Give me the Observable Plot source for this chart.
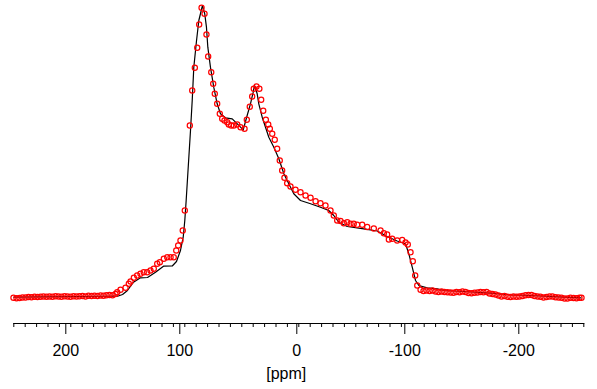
<!DOCTYPE html>
<html><head><meta charset="utf-8">
<script src="https://cdn.jsdelivr.net/npm/d3@7"></script>
<script src="https://cdn.jsdelivr.net/npm/@observablehq/plot@0.6"></script>
<style>html,body{margin:0;padding:0;background:#fff}svg{display:block}</style>
</head><body><div id="chart"></div>
<script>
// Experimental spectrum (black line): chemical shift [ppm] and intensity (arb. units)
const linePpm = [250, 226.6, 191.5, 159.0, 154.6, 150.3, 145.0, 138.9, 132.7, 125.7, 118.7, 111.0, 107.3, 103.8, 101.4, 100.0, 98.8, 95.0, 93.5, 92.1, 89.7, 87.7, 84.5, 82.5, 81.0, 79.8, 77.5, 74.6, 71.6, 68.7, 64.3, 58.4, 55.5, 51.1, 48.8, 45.3, 42.4, 40.0, 38.9, 36.5, 35.1, 32.1, 29.2, 26.3, 21.9, 17.5, 13.1, 8.8, 4.4, -1.5, -10.3, -19.0, -26.3, -30.7, -35.1, -42.5, -57.0, -68.8, -77.5, -86.3, -93.6, -96.5, -99.5, -102.4, -105.3, -112.6, -121.4, -127.2, -144.7, -168.2, -185.7, -203.2, -232.5, -247.5];
const lineIntensity = [0.3, 0.7, 1.0, 1.3, 3, 7, 15.3, 19.7, 20, 25.3, 31.3, 31.5, 36, 47, 60.3, 77, 97, 167, 197, 230.3, 257, 277, 292, 283.7, 270.3, 250.3, 230.3, 210.3, 193.7, 183.7, 179.7, 178.7, 175.3, 170.3, 167.5, 182, 193.7, 205.3, 212, 203.7, 193.7, 180.3, 170.3, 160.3, 150.3, 138.7, 123.7, 113.7, 103.7, 97, 93.7, 90.3, 87, 82, 75.3, 71, 68.7, 66.5, 61, 56.5, 53.7, 43.7, 30.3, 17, 12, 9.7, 8.7, 7, 6, 4.3, 2.7, 2, 0.3, -0.3];

// Simulated spectrum (red circles)
const simPpm = [250.3, 247.6, 245.0, 242.4, 239.7, 237.1, 234.5, 231.8, 229.2, 226.6, 224.0, 221.3, 218.7, 216.1, 213.4, 210.8, 208.2, 205.5, 202.9, 200.3, 197.6, 195.0, 192.4, 189.7, 187.1, 184.5, 181.8, 179.2, 176.6, 173.9, 171.3, 168.7, 166.1, 163.4, 160.8,
  159.3, 156.4, 152.0, 149.1, 147.6, 144.7, 141.8, 138.9, 136.0, 133.0, 130.1, 127.2, 124.2, 121.9, 118.4, 115.4, 112.5, 109.7, 107.5, 105.8, 103.8, 101.8, 100.0,
  95.6, 93.5, 91.2, 89.1, 87.4, 85.3, 82.7, 81.0, 79.5, 76.8, 75.1, 73.7, 71.6, 69.3, 67.2, 65.2, 62.8, 61.4, 59.3, 57.0, 54.0, 51.1, 47.6, 45.6, 43.0, 40.9, 39.5, 37.1, 34.6, 33.0, 31.2, 28.9, 26.8, 25.4, 23.3, 21.1, 19.0, 16.7, 14.6, 12.6, 10.2, 7.3, 2.9, -1.5, -5.9, -10.3, -14.7, -19.0, -23.4, -27.8, -30.7, -33.7, -36.6, -39.5, -42.5, -45.4, -48.2, -51.2, -55.6, -60.0, -65.8, -71.7, -74.6, -77.5, -79.0, -81.9, -86.3, -90.7, -93.6, -95.6, -98.0, -100.0, -102.1, -103.9,
  -106.8, -109.4, -112.0, -114.7, -117.3, -119.9, -122.5, -125.2, -127.8, -130.4, -133.1, -135.7, -138.3, -141.0, -143.6, -146.2, -148.9, -151.5, -154.1, -156.8, -159.4, -162.0, -164.7, -167.3, -169.9, -172.5, -175.2, -177.8, -180.4, -183.1, -185.7, -188.3, -191.0, -193.6, -196.2, -198.9, -201.5, -204.1, -206.8, -209.4, -212.0, -214.7, -217.3, -219.9, -222.5, -225.2, -227.8, -230.4, -233.1, -235.7, -238.3, -241.0, -243.6, -246.2, -248.0];
const simIntensity = [-0.3, -0.8, -0.5, 0, 0, 0.5, 0.3, 0.7, 0.5, 0.8, 1, 0.7, 1, 0.8, 1.2, 1, 0.8, 1.2, 1, 0.7, 1.2, 1, 1.3, 1.5, 1, 1.7, 1.5, 1.8, 1.5, 2, 1.7, 2.2, 2.5, 2.3, 3.5,
  5.3, 7.7, 9.7, 13.7, 16, 19.7, 22, 23.7, 25.3, 25.3, 27, 28.7, 33.7, 35.3, 38.7, 40.3, 40.3, 40.3, 47, 52, 57, 67, 87,
  172, 207, 229.7, 249.7, 273, 289.7, 283.7, 263, 241, 225.3, 213.7, 203.7, 193.7, 183.7, 178.7, 177, 175.3, 173, 172, 172, 173, 170.3, 168.7, 177.7, 190.7, 201, 208.7, 211, 208.7, 197.7, 186.7, 177.7, 173, 168.7, 163.7, 157.7, 148.7, 137, 127, 119.7, 114.3, 111, 107.7, 105.3, 102, 99.7, 96.3, 94.3, 92, 87, 82, 77, 76.5, 74.3, 75.3, 73.7, 73.7, 72.7, 72.7, 70.5, 69, 67, 64.3, 63, 58, 58.7, 57, 57.5, 55, 53, 45.3, 36.3, 22, 12,
  7.7, 6.5, 7, 6.5, 7, 6, 5.5, 6, 5.5, 5.3, 5, 4.7, 5.5, 5.3, 6, 5.5, 4.5, 4.3, 4.7, 5, 5.5, 5.3, 5.5, 4, 3.5, 3, 2, 1, 1.5, 0.7, 0.5, 1, 0.7, 1, 1.5, 2.2, 2.5, 2.5, 1.5, 1, 0.7, 0, 0.5, 1, 1, 0.3, 0, -0.3, -1, -1, -0.3, -0.5, -0.8, -0.3, -0.3];

const positiveTicks = [200, 100];
const zeroTick = [0];
const negativeTicks = [-100, -200];
const minorTicks = d3.range(-250, 251, 10);
const axisTitle = "[ppm]";

const lineData = linePpm.map((p, i) => ({ppm: p, intensity: lineIntensity[i]}));
const simData = simPpm.map((p, i) => ({ppm: p, intensity: simIntensity[i]}));

const labelAxis = (ticks, dx) => Plot.axisX({ticks, tickSize: 11, tickPadding: 10, tickFormat: d => String(d), label: null, fontSize: 16, dx});

const chart = Plot.plot({
  width: 597,
  height: 389,
  marginLeft: 13.3,
  marginRight: 13.7,
  marginTop: 8,
  marginBottom: 66,
  x: {domain: [250, -250], label: null},
  y: {domain: [0, 289], range: [297, 8], axis: null, label: null},
  style: {fontFamily: "'Liberation Sans', Arial, sans-serif", fontSize: "16px", color: "black", background: "white"},
  marks: [
    Plot.frame({anchor: "bottom", stroke: "black"}),
    Plot.axisX({ticks: minorTicks, tickSize: 4, tickFormat: () => "", label: null}),
    Plot.tickX([...positiveTicks, ...zeroTick, ...negativeTicks], {x: d => d, y1: 0, y2: 0, stroke: "none"}),
    labelAxis(positiveTicks, -5),
    labelAxis(zeroTick, -2),
    labelAxis(negativeTicks, -8),
    Plot.line(lineData, {x: "ppm", y: "intensity", stroke: "black", strokeWidth: 1.2}),
    Plot.dot(simData, {x: "ppm", y: "intensity", r: 2.6, stroke: "#ff0000", strokeWidth: 1.2, fill: "none"}),
    Plot.text([axisTitle], {x: () => 11, frameAnchor: "bottom", dy: 55, text: d => d, fontSize: 16, fill: "black"})
  ]
});
document.getElementById("chart").appendChild(chart);
</script>
</body></html>
